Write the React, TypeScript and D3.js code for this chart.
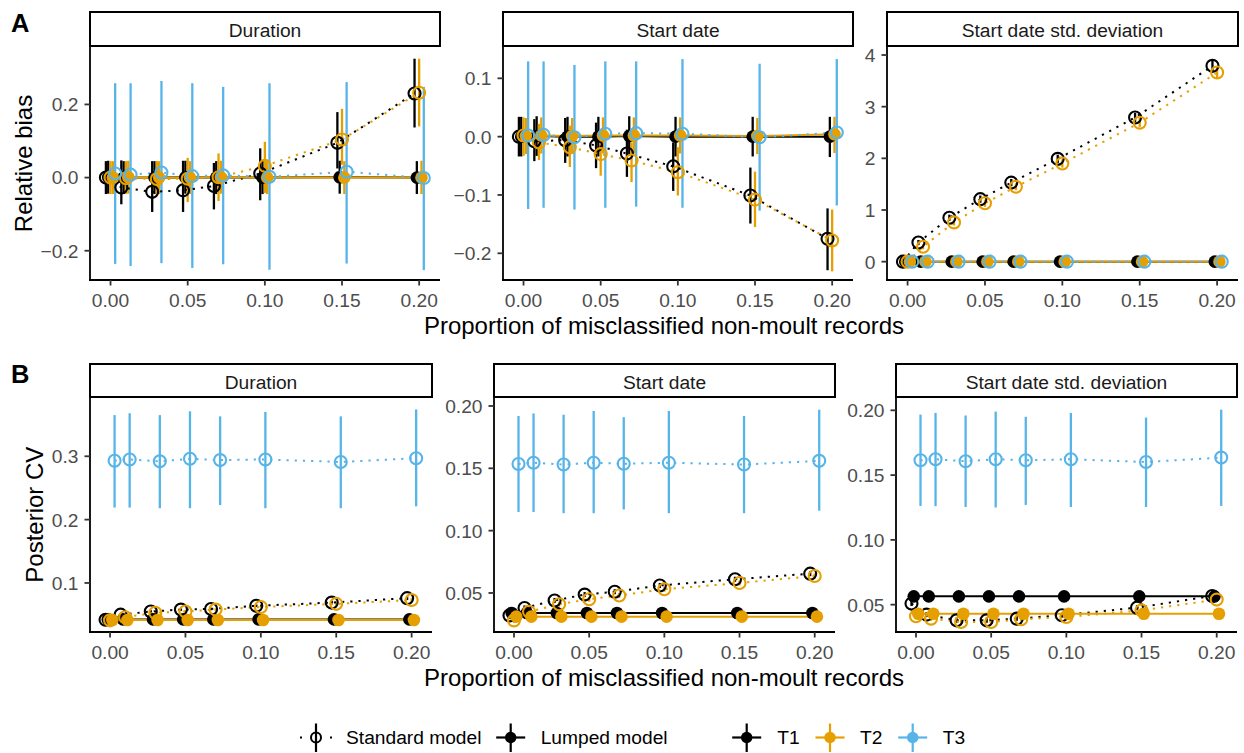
import React from "react";
import * as d3 from "d3";

const FONT = "'Liberation Sans', Arial, Helvetica, sans-serif";
const W = 1244;
const H = 753;

const xProportion = [0, 0.01, 0.03, 0.05, 0.07, 0.1, 0.15, 0.2];
const xTicks = [0, 0.05, 0.1, 0.15, 0.2];
const panelTitles = ["Duration", "Start date", "Start date std. deviation"];
const modelNames = ["Standard model", "Lumped model"];
const groupNames = ["T1", "T2", "T3"];
const groupColours = ["#000000", "#E69F00", "#56B4E9"];

// each point: [estimate, lower, upper]
// A: relative bias
const biasDurStdT1 = [[0.000, -0.045, 0.045], [-0.027, -0.073, 0.047], [-0.039, -0.094, 0.045], [-0.035, -0.094, 0.046], [-0.023, -0.087, 0.040], [0.011, -0.062, 0.080], [0.095, 0.025, 0.179], [0.230, 0.137, 0.325]];
const biasDurStdT2 = [[0.000, -0.045, 0.045], [-0.002, -0.045, 0.045], [-0.004, -0.048, 0.045], [-0.003, -0.067, 0.054], [0.001, -0.064, 0.066], [0.032, -0.042, 0.098], [0.104, 0.035, 0.188], [0.232, 0.140, 0.325]];
const biasDurStdT3 = [[0.011, -0.236, 0.258], [0.008, -0.242, 0.258], [0.014, -0.234, 0.264], [0.004, -0.247, 0.258], [0.006, -0.237, 0.248], [0.002, -0.252, 0.258], [0.016, -0.235, 0.261], [-0.001, -0.253, 0.248]];
const biasDurLumpT1 = [[0.001, -0.044, 0.046], [0.000, -0.045, 0.045], [0.000, -0.045, 0.045], [0.001, -0.044, 0.046], [0.000, -0.045, 0.045], [0.000, -0.045, 0.045], [0.001, -0.044, 0.046], [0.000, -0.045, 0.045]];
const biasDurLumpT2 = [[0.000, -0.045, 0.045], [0.001, -0.044, 0.046], [0.000, -0.045, 0.045], [0.000, -0.045, 0.045], [0.001, -0.044, 0.046], [0.000, -0.045, 0.045], [0.000, -0.045, 0.045], [0.000, -0.045, 0.046]];

const biasStartStdT1 = [[0.000, -0.034, 0.034], [-0.008, -0.042, 0.030], [-0.006, -0.045, 0.032], [-0.015, -0.054, 0.024], [-0.029, -0.069, 0.012], [-0.051, -0.093, -0.010], [-0.101, -0.149, -0.053], [-0.175, -0.229, -0.123]];
const biasStartStdT2 = [[0.002, -0.033, 0.033], [-0.010, -0.040, 0.022], [-0.018, -0.052, 0.019], [-0.030, -0.067, 0.003], [-0.041, -0.078, -0.010], [-0.061, -0.101, -0.018], [-0.108, -0.155, -0.060], [-0.178, -0.231, -0.125]];
const biasStartStdT3 = [[0.002, -0.124, 0.129], [0.003, -0.122, 0.129], [-0.001, -0.125, 0.123], [0.005, -0.122, 0.129], [0.006, -0.120, 0.129], [0.005, -0.122, 0.133], [-0.001, -0.127, 0.125], [0.007, -0.118, 0.133]];
const biasStartLumpT1 = [[0.000, -0.034, 0.034], [0.001, -0.033, 0.035], [0.000, -0.034, 0.034], [0.000, -0.034, 0.034], [0.001, -0.033, 0.035], [0.000, -0.034, 0.034], [0.000, -0.034, 0.034], [0.000, -0.035, 0.034]];
const biasStartLumpT2 = [[0.001, -0.030, 0.032], [0.002, -0.029, 0.033], [0.001, -0.030, 0.032], [0.002, -0.029, 0.033], [0.002, -0.029, 0.033], [0.002, -0.029, 0.033], [0.001, -0.030, 0.032], [0.004, -0.028, 0.034]];

const biasSdStdT1 = [[0.00, -0.03, 0.03], [0.37, 0.32, 0.42], [0.85, 0.79, 0.91], [1.21, 1.14, 1.28], [1.53, 1.46, 1.60], [1.99, 1.91, 2.07], [2.79, 2.70, 2.88], [3.79, 3.69, 3.89]];
const biasSdStdT2 = [[0.00, -0.03, 0.03], [0.29, 0.24, 0.34], [0.76, 0.70, 0.82], [1.13, 1.06, 1.20], [1.45, 1.38, 1.52], [1.90, 1.82, 1.98], [2.69, 2.60, 2.78], [3.66, 3.54, 3.78]];
const biasSdStdT3 = [[0.00, -0.02, 0.02], [0.00, -0.02, 0.02], [0.00, -0.02, 0.02], [0.00, -0.02, 0.02], [0.00, -0.02, 0.02], [0.00, -0.02, 0.02], [0.00, -0.02, 0.02], [0.00, -0.02, 0.02]];
const biasSdLumpT1 = [[0.00, -0.02, 0.02], [0.00, -0.02, 0.02], [0.00, -0.02, 0.02], [0.00, -0.02, 0.02], [0.00, -0.02, 0.02], [0.00, -0.02, 0.02], [0.00, -0.02, 0.02], [0.00, -0.02, 0.02]];
const biasSdLumpT2 = [[0.00, -0.02, 0.02], [0.00, -0.02, 0.02], [0.00, -0.02, 0.02], [0.00, -0.02, 0.02], [0.00, -0.02, 0.02], [0.00, -0.02, 0.02], [0.00, -0.02, 0.02], [0.00, -0.02, 0.02]];

// B: posterior CV
const cvDurStdT1 = [[0.042, 0.040, 0.044], [0.050, 0.048, 0.052], [0.055, 0.053, 0.057], [0.058, 0.056, 0.060], [0.059, 0.057, 0.061], [0.064, 0.062, 0.066], [0.069, 0.066, 0.072], [0.076, 0.073, 0.079]];
const cvDurStdT2 = [[0.041, 0.039, 0.043], [0.046, 0.044, 0.048], [0.053, 0.051, 0.055], [0.055, 0.053, 0.057], [0.058, 0.056, 0.060], [0.062, 0.060, 0.064], [0.067, 0.064, 0.070], [0.073, 0.070, 0.076]];
const cvDurStdT3 = [[0.293, 0.219, 0.365], [0.295, 0.219, 0.368], [0.292, 0.218, 0.365], [0.296, 0.218, 0.371], [0.294, 0.223, 0.363], [0.295, 0.218, 0.370], [0.291, 0.218, 0.363], [0.297, 0.221, 0.374]];
const cvDurLumpT1 = [[0.0425, 0.041, 0.044], [0.0425, 0.041, 0.044], [0.0425, 0.041, 0.044], [0.0425, 0.041, 0.044], [0.0425, 0.041, 0.044], [0.0425, 0.041, 0.044], [0.0425, 0.041, 0.044], [0.0425, 0.041, 0.044]];
const cvDurLumpT2 = [[0.0415, 0.040, 0.043], [0.0415, 0.040, 0.043], [0.0415, 0.040, 0.043], [0.0415, 0.040, 0.043], [0.0415, 0.040, 0.043], [0.0415, 0.040, 0.043], [0.0415, 0.040, 0.043], [0.0415, 0.040, 0.043]];

const cvStartStdT1 = [[0.032, 0.030, 0.034], [0.038, 0.036, 0.040], [0.044, 0.042, 0.046], [0.0487, 0.0467, 0.0507], [0.051, 0.049, 0.053], [0.056, 0.054, 0.058], [0.061, 0.059, 0.063], [0.0655, 0.0635, 0.0675]];
const cvStartStdT2 = [[0.028, 0.026, 0.030], [0.035, 0.033, 0.037], [0.041, 0.039, 0.043], [0.045, 0.043, 0.047], [0.048, 0.046, 0.050], [0.053, 0.051, 0.055], [0.058, 0.056, 0.060], [0.0636, 0.0616, 0.0656]];
const cvStartStdT3 = [[0.1535, 0.115, 0.192], [0.1545, 0.115, 0.194], [0.153, 0.114, 0.193], [0.1545, 0.114, 0.196], [0.1537, 0.117, 0.191], [0.1545, 0.114, 0.196], [0.153, 0.114, 0.192], [0.156, 0.116, 0.197]];
const cvStartLumpT1 = [[0.034, 0.033, 0.035], [0.034, 0.033, 0.035], [0.034, 0.033, 0.035], [0.034, 0.033, 0.035], [0.034, 0.033, 0.035], [0.034, 0.033, 0.035], [0.034, 0.033, 0.035], [0.034, 0.033, 0.035]];
const cvStartLumpT2 = [[0.031, 0.030, 0.032], [0.031, 0.030, 0.032], [0.031, 0.030, 0.032], [0.031, 0.030, 0.032], [0.031, 0.030, 0.032], [0.031, 0.030, 0.032], [0.031, 0.030, 0.032], [0.031, 0.030, 0.032]];

const cvSdStdT1 = [[0.0508, 0.049, 0.053], [0.0423, 0.0405, 0.044], [0.0379, 0.036, 0.040], [0.0379, 0.036, 0.040], [0.0392, 0.0375, 0.041], [0.0418, 0.040, 0.0436], [0.0477, 0.0458, 0.0496], [0.0567, 0.0548, 0.0586]];
const cvSdStdT2 = [[0.041, 0.0392, 0.0428], [0.0392, 0.0375, 0.041], [0.0366, 0.035, 0.0383], [0.0366, 0.035, 0.0383], [0.0387, 0.037, 0.0405], [0.0405, 0.0387, 0.0423], [0.0456, 0.0438, 0.0475], [0.0539, 0.052, 0.0558]];
const cvSdStdT3 = [[0.1614, 0.1262, 0.1967], [0.1622, 0.126, 0.198], [0.1607, 0.1254, 0.196], [0.1622, 0.125, 0.199], [0.1614, 0.127, 0.195], [0.1622, 0.1254, 0.198], [0.1601, 0.1254, 0.1944], [0.1635, 0.1262, 0.2005]];
const cvSdLumpT1 = [[0.0564, 0.0555, 0.0573], [0.0564, 0.0555, 0.0573], [0.0564, 0.0555, 0.0573], [0.0564, 0.0555, 0.0573], [0.0564, 0.0555, 0.0573], [0.0564, 0.0555, 0.0573], [0.0564, 0.0555, 0.0573], [0.0564, 0.0555, 0.0573]];
const cvSdLumpT2 = [[0.043, 0.042, 0.044], [0.043, 0.042, 0.044], [0.043, 0.042, 0.044], [0.043, 0.042, 0.044], [0.043, 0.042, 0.044], [0.043, 0.042, 0.044], [0.043, 0.042, 0.044], [0.043, 0.042, 0.044]];

const biasTicksDur = [-0.2, 0, 0.2];
const biasTicksStart = [-0.2, -0.1, 0, 0.1];
const biasTicksSd = [0, 1, 2, 3, 4];
const cvTicksDur = [0.1, 0.2, 0.3];
const cvTicksStart = [0.05, 0.1, 0.15, 0.2];

const xDomain = [-0.0133, 0.2135];
const stdDodge = [-0.003, 0, 0.003];
const lumpDodge = [-0.0015, 0.0015];

const TICK_COLOUR = "#333333";
const TICK_TEXT = "#4D4D4D";
const SMALL = 19.2;
const BIG = 24;

type Pt = number[];

interface PanelProps {
  left: number;
  right: number;
  stripTop: number;
  top: number;
  bottom: number;
  title: string;
  yDomain: number[];
  yTicks: number[];
  yFmt: (v: number) => string;
  std: Pt[][];
  lump: Pt[][];
}

function Panel(p: PanelProps) {
  const x = d3.scaleLinear().domain(xDomain).range([p.left, p.right]);
  const y = d3.scaleLinear().domain(p.yDomain).range([p.bottom, p.top]);
  const layers = [
    { data: p.std[0], colour: groupColours[0], dx: stdDodge[0], lumped: false },
    { data: p.lump[0], colour: groupColours[0], dx: lumpDodge[0], lumped: true },
    { data: p.std[1], colour: groupColours[1], dx: stdDodge[1], lumped: false },
    { data: p.lump[1], colour: groupColours[1], dx: lumpDodge[1], lumped: true },
    { data: p.std[2], colour: groupColours[2], dx: stdDodge[2], lumped: false },
  ];
  const xFmt = d3.format(".2f");

  return (
    <g>
      <rect x={p.left} y={p.stripTop} width={p.right - p.left} height={p.top - p.stripTop - 1}
        fill="#fff" stroke="#000" strokeWidth={2} />
      <text x={(p.left + p.right) / 2} y={p.stripTop + 25} textAnchor="middle"
        fontSize={SMALL} fill="#1A1A1A">{p.title}</text>

      {layers.map((l, li) => (
        <g key={"e" + li} stroke={l.colour} strokeWidth={2.3}>
          {l.data.map((d, i) => (
            <line key={i} x1={x(xProportion[i] + l.dx)} x2={x(xProportion[i] + l.dx)}
              y1={y(d[1])} y2={y(d[2])} />
          ))}
        </g>
      ))}

      {layers.map((l, li) => {
        const gen = d3.line<Pt>()
          .x((_, i) => x(xProportion[i] + l.dx))
          .y(d => y(d[0]));
        return (
          <path key={"l" + li} d={gen(l.data) || ""} fill="none" stroke={l.colour}
            strokeWidth={2} strokeDasharray={l.lumped ? undefined : "2.2 6"} />
        );
      })}

      {layers.map((l, li) => (
        <g key={"p" + li}>
          {l.data.map((d, i) => (
            l.lumped ? (
              <circle key={i} cx={x(xProportion[i] + l.dx)} cy={y(d[0])} r={6.3} fill={l.colour} />
            ) : (
              <circle key={i} cx={x(xProportion[i] + l.dx)} cy={y(d[0])} r={6}
                fill="none" stroke={l.colour} strokeWidth={2.1} />
            )
          ))}
        </g>
      ))}

      <line x1={p.left} x2={p.left} y1={p.top} y2={p.bottom + 1} stroke="#000" strokeWidth={1.8} />
      <line x1={p.left - 1} x2={p.right} y1={p.bottom} y2={p.bottom} stroke="#000" strokeWidth={1.8} />
      {p.yTicks.map(t => (
        <g key={"yt" + t}>
          <line x1={p.left - 5.5} x2={p.left} y1={y(t)} y2={y(t)} stroke={TICK_COLOUR} strokeWidth={1.8} />
          <text x={p.left - 11.5} y={y(t)} dy="0.36em" textAnchor="end" fontSize={SMALL}
            fill={TICK_TEXT}>{p.yFmt(t)}</text>
        </g>
      ))}
      {xTicks.map(t => (
        <g key={"xt" + t}>
          <line x1={x(t)} x2={x(t)} y1={p.bottom} y2={p.bottom + 5.5} stroke={TICK_COLOUR} strokeWidth={1.8} />
          <text x={x(t)} y={p.bottom + 27} textAnchor="middle" fontSize={SMALL}
            fill={TICK_TEXT}>{xFmt(t)}</text>
        </g>
      ))}
    </g>
  );
}

function LegendKey({ cx, cy, colour, open }: { cx: number; cy: number; colour: string; open: boolean }) {
  return (
    <g>
      <line x1={cx} x2={cx} y1={cy - 14} y2={cy + 14.5} stroke={colour} strokeWidth={2.2} />
      {open ? (
        <>
          <line x1={cx - 16} x2={cx + 16} y1={cy} y2={cy} stroke={colour} strokeWidth={2}
            strokeDasharray="2 13" />
          <circle cx={cx} cy={cy} r={5} fill="#fff" stroke={colour} strokeWidth={2} />
          <line x1={cx} x2={cx} y1={cy - 5} y2={cy + 5} stroke={colour} strokeWidth={2.2} />
        </>
      ) : (
        <>
          <line x1={cx - 14.5} x2={cx + 14.5} y1={cy} y2={cy} stroke={colour} strokeWidth={2.2} />
          <circle cx={cx} cy={cy} r={5.7} fill={colour} />
        </>
      )}
    </g>
  );
}

function Legend() {
  const cy = 737.5;
  const modelKeys = [316, 510.7];
  const modelText = [346, 540.7];
  const groupKeys = [746.7, 830, 912.7];
  const groupText = [777.3, 860, 942.7];
  return (
    <g>
      {modelNames.map((m, i) => (
        <g key={m}>
          <LegendKey cx={modelKeys[i]} cy={cy} colour="#000" open={i === 0} />
          <text x={modelText[i]} y={cy + 6.8} fontSize={SMALL} fill="#000">{m}</text>
        </g>
      ))}
      {groupNames.map((g, i) => (
        <g key={g}>
          <LegendKey cx={groupKeys[i]} cy={cy} colour={groupColours[i]} open={false} />
          <text x={groupText[i]} y={cy + 6.8} fontSize={SMALL} fill="#000">{g}</text>
        </g>
      ))}
    </g>
  );
}

const fmt1 = d3.format(".1f");
const fmt2 = d3.format(".2f");
const fmt0 = d3.format("d");

export default function App() {
  const rowA = { stripTop: 12, top: 47, bottom: 280 };
  const rowB = { stripTop: 364, top: 398, bottom: 632 };
  return (
    <svg width={W} height={H} viewBox={`0 0 ${W} ${H}`}
      style={{ position: "absolute", left: 0, top: 0, background: "#fff", fontFamily: FONT }}>
      <rect x={0} y={0} width={W} height={H} fill="#fff" />

      <text x={11} y={32.3} fontSize={25.5} fontWeight="bold">A</text>
      <text x={11} y={383.3} fontSize={25.5} fontWeight="bold">B</text>

      <Panel left={90} right={440} {...rowA} title={panelTitles[0]}
        yDomain={[-0.28, 0.357]} yTicks={biasTicksDur} yFmt={fmt1}
        std={[biasDurStdT1, biasDurStdT2, biasDurStdT3]} lump={[biasDurLumpT1, biasDurLumpT2]} />
      <Panel left={503} right={853} {...rowA} title={panelTitles[1]}
        yDomain={[-0.2458, 0.1537]} yTicks={biasTicksStart} yFmt={fmt1}
        std={[biasStartStdT1, biasStartStdT2, biasStartStdT3]} lump={[biasStartLumpT1, biasStartLumpT2]} />
      <Panel left={887} right={1238} {...rowA} title={panelTitles[2]}
        yDomain={[-0.355, 4.155]} yTicks={biasTicksSd} yFmt={fmt0}
        std={[biasSdStdT1, biasSdStdT2, biasSdStdT3]} lump={[biasSdLumpT1, biasSdLumpT2]} />

      <Panel left={90} right={432} {...rowB} title={panelTitles[0]}
        yDomain={[0.0226, 0.392]} yTicks={cvTicksDur} yFmt={fmt1}
        std={[cvDurStdT1, cvDurStdT2, cvDurStdT3]} lump={[cvDurLumpT1, cvDurLumpT2]} />
      <Panel left={494} right={835} {...rowB} title={panelTitles[1]}
        yDomain={[0.0187, 0.2064]} yTicks={cvTicksStart} yFmt={fmt2}
        std={[cvStartStdT1, cvStartStdT2, cvStartStdT3]} lump={[cvStartLumpT1, cvStartLumpT2]} />
      <Panel left={896} right={1237} {...rowB} title={panelTitles[2]}
        yDomain={[0.0289, 0.2095]} yTicks={cvTicksStart} yFmt={fmt2}
        std={[cvSdStdT1, cvSdStdT2, cvSdStdT3]} lump={[cvSdLumpT1, cvSdLumpT2]} />

      <text x={664} y={334} textAnchor="middle" fontSize={BIG}>
        Proportion of misclassified non-moult records
      </text>
      <text x={664} y={685.5} textAnchor="middle" fontSize={BIG}>
        Proportion of misclassified non-moult records
      </text>
      <text transform="translate(31.7,163.5) rotate(-90)" textAnchor="middle" fontSize={BIG}>
        Relative bias
      </text>
      <text transform="translate(43.3,514.7) rotate(-90)" textAnchor="middle" fontSize={BIG}>
        Posterior CV
      </text>

      <Legend />
    </svg>
  );
}
